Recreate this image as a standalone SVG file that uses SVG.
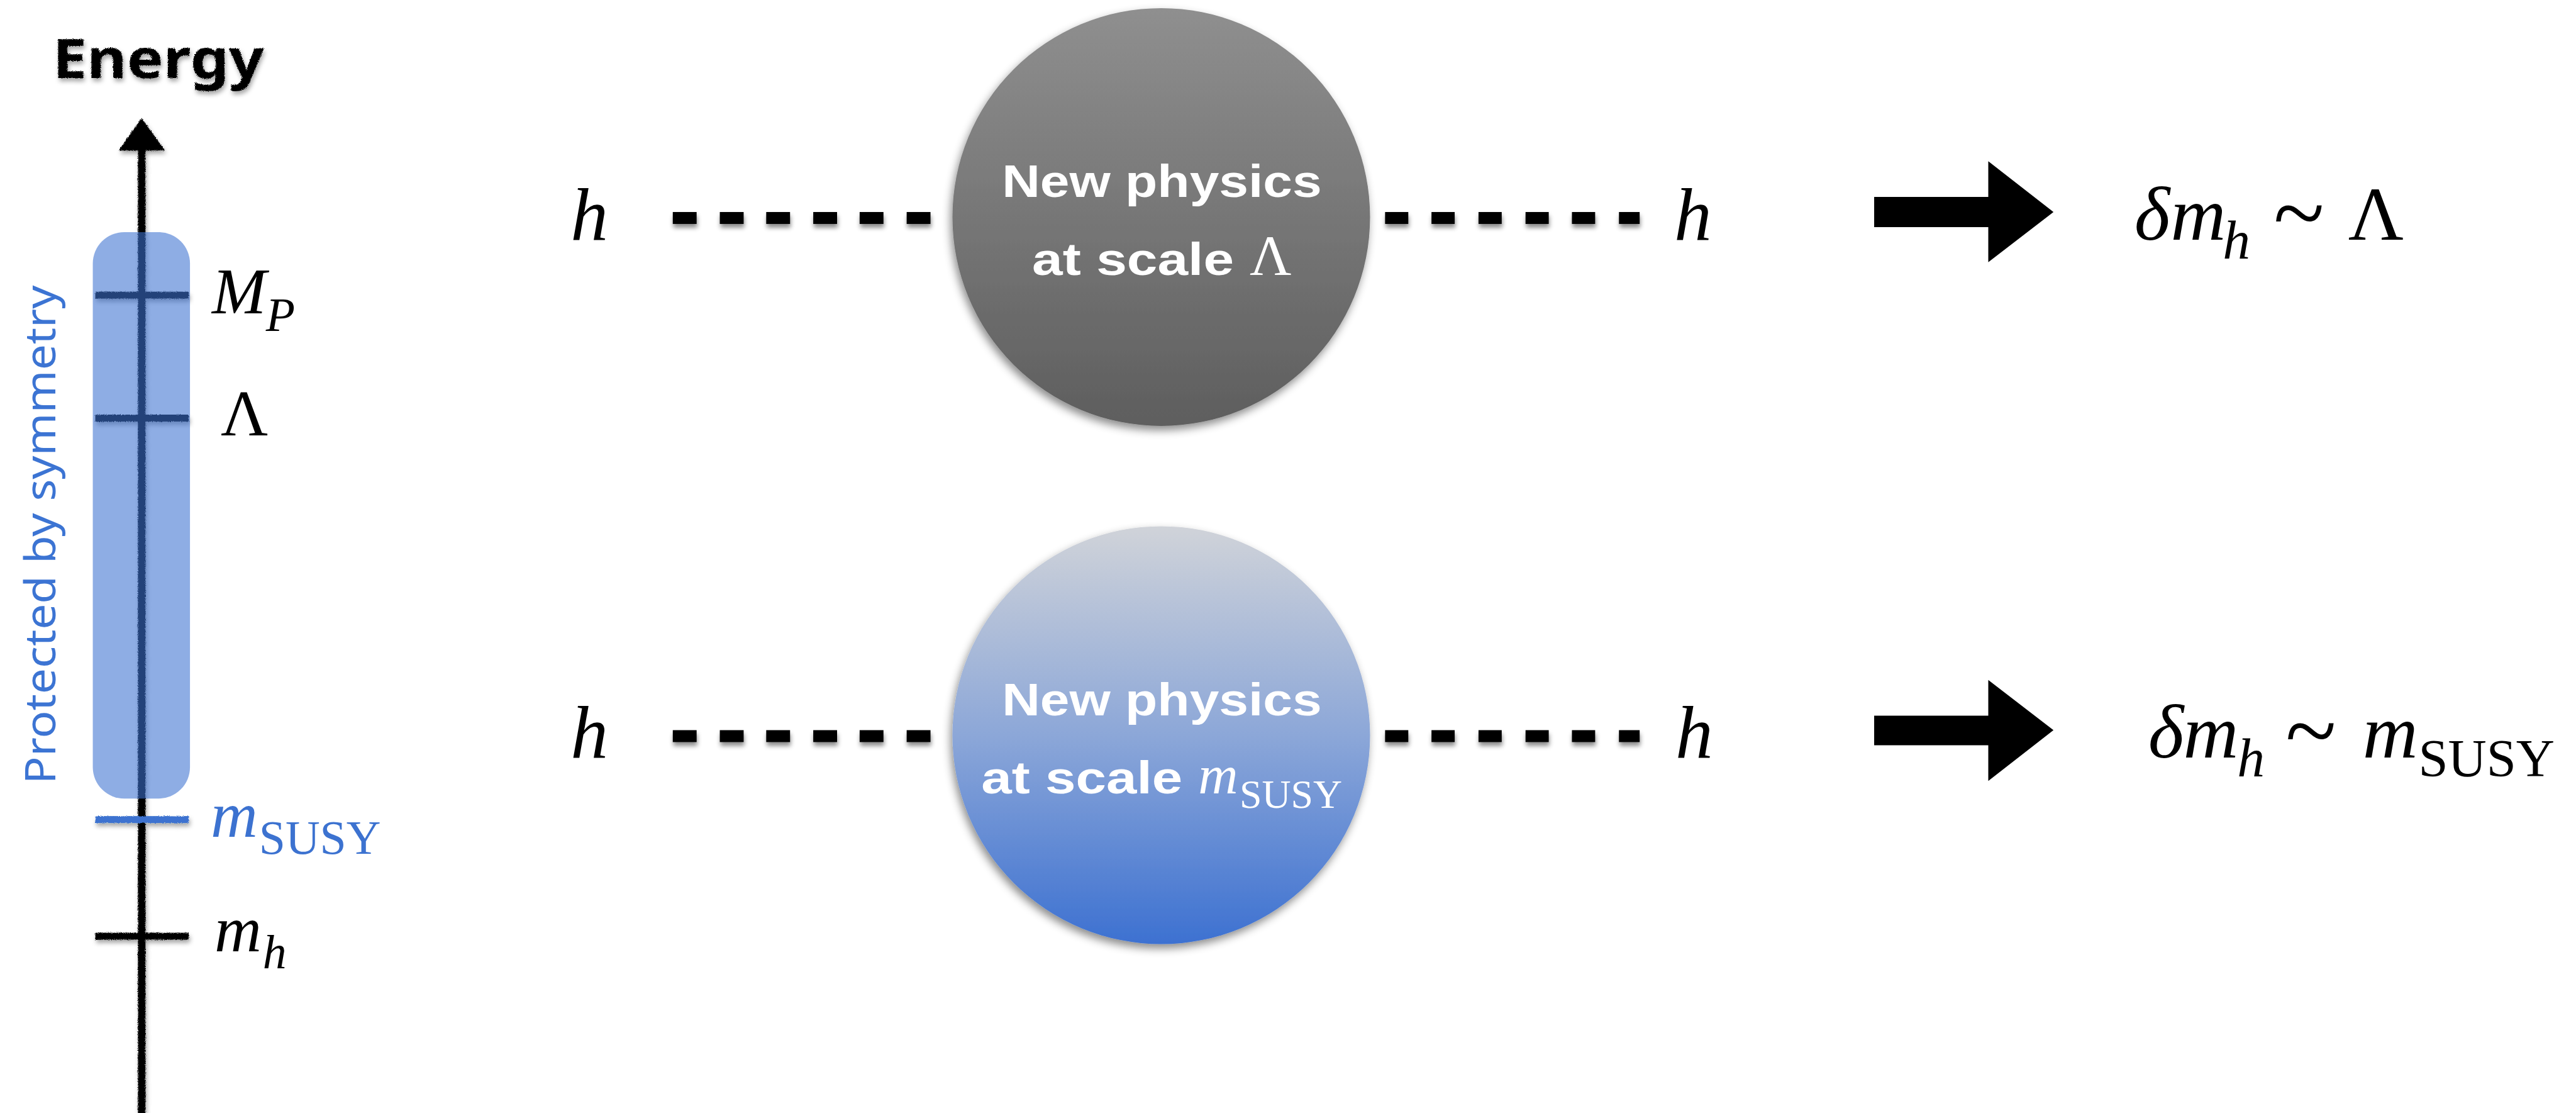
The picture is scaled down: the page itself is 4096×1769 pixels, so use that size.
<svg xmlns="http://www.w3.org/2000/svg" width="4096" height="1769" viewBox="0 0 4096 1769">
<defs>
<style>
.serif{font-family:"Liberation Serif","DejaVu Serif",serif}
.it{font-style:italic}
.lab{font-size:104px;fill:#000}
.sub{font-size:76px}
.big{font-size:122px;fill:#000}
.tilde{font-style:normal;font-size:150px}
.bold{font-family:"Liberation Sans",Arial,sans-serif;font-weight:bold;font-size:72px;fill:#fff}
.hand{font-family:"Noto Sans","Liberation Sans",sans-serif}
.blue{fill:#3C72D0}
.dash{fill:#000}
</style>
<linearGradient id="gGray" x1="0" y1="0" x2="0" y2="1">
<stop offset="0" stop-color="#8F8F8F"/>
<stop offset="1" stop-color="#5E5E5E"/>
</linearGradient>
<linearGradient id="gBlue" x1="0" y1="0" x2="0" y2="1">
<stop offset="0" stop-color="#D0D3D9"/>
<stop offset="0.5" stop-color="#8CA7D8"/>
<stop offset="1" stop-color="#3D71D1"/>
</linearGradient>
<filter id="shadow" filterUnits="userSpaceOnUse" x="0" y="0" width="4108" height="1774">
<feDropShadow dx="1" dy="6" stdDeviation="4" flood-opacity="0.45"/>
</filter>
<filter id="cshadow" filterUnits="userSpaceOnUse" x="0" y="0" width="4108" height="1774">
<feDropShadow dx="-3" dy="7" stdDeviation="7" flood-opacity="0.45"/>
</filter>
<filter id="chalk" filterUnits="userSpaceOnUse" x="0" y="0" width="4108" height="1774">
<feTurbulence type="fractalNoise" baseFrequency="0.9" numOctaves="2" seed="3" result="n"/>
<feDisplacementMap in="SourceGraphic" in2="n" scale="4" xChannelSelector="R" yChannelSelector="G" result="d"/>
<feDropShadow in="d" dx="2" dy="5" stdDeviation="4" flood-opacity="0.35"/>
</filter>
</defs>
<rect width="4096" height="1769" fill="#fff"/>
<g transform="scale(0.997)">

<g id="energy-axis">
<text class="hand" x="84" y="124" font-size="86" font-weight="bold" textLength="337" lengthAdjust="spacingAndGlyphs" fill="#000" filter="url(#chalk)">Energy</text>
<g filter="url(#chalk)">
<rect x="220" y="236" width="12" height="1540" fill="#000"/>
<polygon points="226,188 263,240 189,240" fill="#000"/>
<rect x="152" y="465" width="149" height="11" fill="#000"/>
<rect x="152" y="661" width="149" height="11" fill="#000"/>
<rect x="152" y="1487" width="149" height="11" fill="#000"/>
<rect x="152" y="1301" width="149" height="11" fill="#3C72D0"/>
</g>
</g>

<g id="protected-band">
<rect x="148" y="370" width="155" height="903" rx="50" ry="50" fill="#3D71D0" fill-opacity="0.58"/>
<text class="hand" transform="translate(88,1250) rotate(-90)" x="0" y="0" font-size="68" textLength="795" lengthAdjust="spacingAndGlyphs" fill="#3C74D3">Protected by symmetry</text>
</g>

<g id="scale-labels">
<text class="serif it lab" x="338" y="499">M<tspan class="sub" x="424" y="528">P</tspan></text>
<text class="serif lab" x="352" y="694">Λ</text>
<text class="serif it lab blue" x="336" y="1334">m<tspan class="sub" font-style="normal" x="413" y="1361">SUSY</tspan></text>
<text class="serif it lab" x="342" y="1517">m<tspan class="sub" x="419" y="1544">h</tspan></text>
</g>

<g id="connectors">
<g filter="url(#shadow)">
<rect class="dash" x="1073" y="338" width="38" height="19"/>
<rect class="dash" x="1148" y="338" width="38" height="19"/>
<rect class="dash" x="1222" y="338" width="38" height="19"/>
<rect class="dash" x="1297" y="338" width="38" height="19"/>
<rect class="dash" x="1371" y="338" width="38" height="19"/>
<rect class="dash" x="1446" y="338" width="38" height="19"/>
<rect class="dash" x="2209" y="338" width="37" height="19"/>
<rect class="dash" x="2283" y="338" width="37" height="19"/>
<rect class="dash" x="2358" y="338" width="37" height="19"/>
<rect class="dash" x="2433" y="338" width="37" height="19"/>
<rect class="dash" x="2507" y="338" width="37" height="19"/>
<rect class="dash" x="2582" y="338" width="33" height="19"/>
<rect class="dash" x="1073" y="1164" width="38" height="19"/>
<rect class="dash" x="1148" y="1164" width="38" height="19"/>
<rect class="dash" x="1222" y="1164" width="38" height="19"/>
<rect class="dash" x="1297" y="1164" width="38" height="19"/>
<rect class="dash" x="1371" y="1164" width="38" height="19"/>
<rect class="dash" x="1446" y="1164" width="38" height="19"/>
<rect class="dash" x="2209" y="1164" width="37" height="19"/>
<rect class="dash" x="2283" y="1164" width="37" height="19"/>
<rect class="dash" x="2358" y="1164" width="37" height="19"/>
<rect class="dash" x="2433" y="1164" width="37" height="19"/>
<rect class="dash" x="2507" y="1164" width="37" height="19"/>
<rect class="dash" x="2582" y="1164" width="33" height="19"/>
</g>
<polygon points="2989,314 3171,314 3171,257 3275,338 3171,418 3171,362 2989,362" fill="#000"/>
<polygon points="2989,1141 3171,1141 3171,1084 3275,1164 3171,1245 3171,1188 2989,1188" fill="#000"/>
</g>

<g id="h-top-left"><text class="serif it" x="910" y="382" font-size="120">h</text></g>
<g id="h-top-right"><text class="serif it" x="2670" y="382" font-size="120">h</text></g>
<g id="h-bottom-left"><text class="serif it" x="910" y="1208" font-size="120">h</text></g>
<g id="h-bottom-right"><text class="serif it" x="2672" y="1208" font-size="120">h</text></g>

<g id="blob-lambda">
<circle cx="1852" cy="346" r="333" fill="url(#gGray)" filter="url(#cshadow)"/>
<text class="bold" x="1598" y="314" textLength="510" lengthAdjust="spacingAndGlyphs">New physics</text>
<text class="bold" x="1646" y="438" textLength="322" lengthAdjust="spacingAndGlyphs">at scale</text>
<text class="serif" x="1993" y="438" font-size="92" fill="#fff">Λ</text>
</g>

<g id="blob-susy">
<circle cx="1852" cy="1172" r="333" fill="url(#gBlue)" filter="url(#cshadow)"/>
<text class="bold" x="1598" y="1140" textLength="510" lengthAdjust="spacingAndGlyphs">New physics</text>
<text class="bold" x="1565" y="1265" textLength="321" lengthAdjust="spacingAndGlyphs">at scale</text>
<text class="serif it" x="1911" y="1265" font-size="88" fill="#fff">m<tspan font-style="normal" font-size="64" x="1977" y="1288">SUSY</tspan></text>
</g>

<g id="result-lambda">
<text class="serif it big" x="3404" y="382">δ<tspan x="3462">m</tspan><tspan font-size="88" x="3545" y="412">h</tspan><tspan class="tilde" x="3626" y="390">~</tspan><tspan font-style="normal" x="3745" y="382">Λ</tspan></text>
</g>

<g id="result-susy">
<text class="serif it big" x="3426" y="1208">δ<tspan x="3482">m</tspan><tspan font-size="88" x="3568" y="1238">h</tspan><tspan class="tilde" x="3645" y="1216">~</tspan><tspan x="3768" y="1208">m</tspan><tspan font-style="normal" font-size="85" x="3857" y="1238">SUSY</tspan></text>
</g>

</g>
</svg>
